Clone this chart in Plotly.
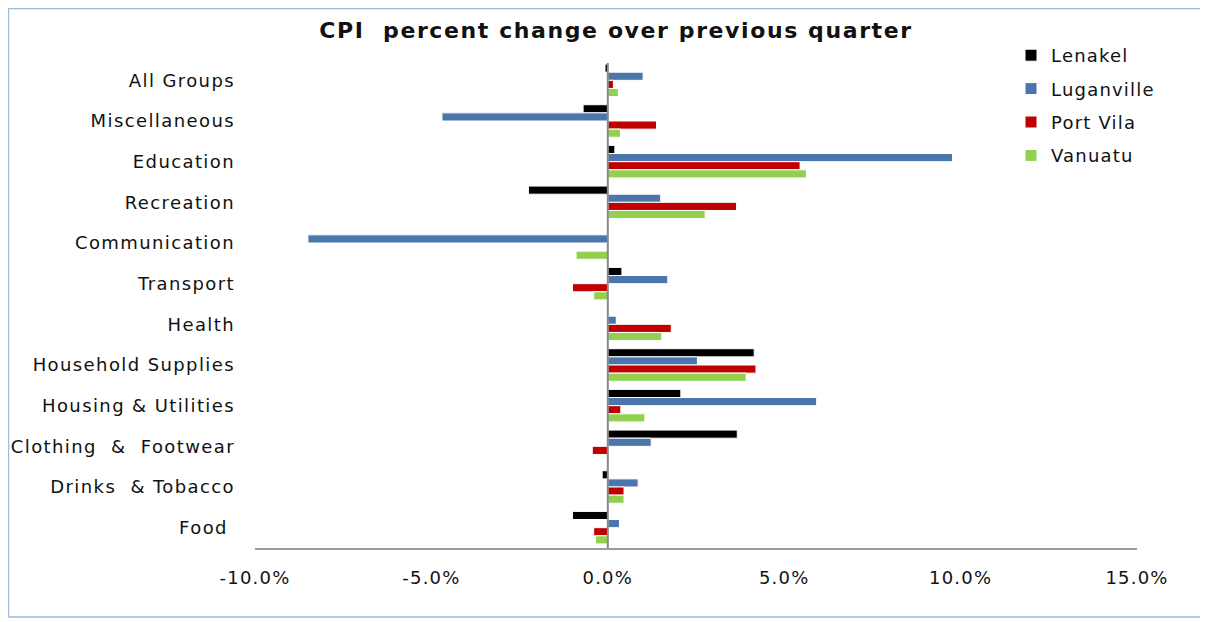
import plotly.graph_objects as go

categories = ["All Groups", "Miscellaneous", "Education", "Recreation", "Communication",
              "Transport", "Health", "Household Supplies", "Housing & Utilities",
              "Clothing\u00a0 &\u00a0 Footwear", "Drinks\u00a0 & Tobacco", "Food\u00a0"]

lenakel    = [-0.08, -0.70, 0.20, -2.25, 0.00, 0.40, 0.00, 4.15, 2.07, 3.67, -0.16, -1.00]
luganville = [1.00, -4.70, 9.77, 1.50, -8.50, 1.70, 0.24, 2.54, 5.92, 1.23, 0.86, 0.33]
port_vila  = [0.16, 1.38, 5.45, 3.65, 0.00, -1.00, 1.80, 4.20, 0.37, -0.44, 0.46, -0.40]
vanuatu    = [0.30, 0.36, 5.63, 2.76, -0.90, -0.40, 1.53, 3.92, 1.05, 0.05, 0.46, -0.35]

tick_values = [-10, -5, 0, 5, 10, 15]
tick_labels = ["-10.0%", "-5.0%", "0.0%", "5.0%", "10.0%", "15.0%"]

series = [("Lenakel", lenakel, "#000000"),
          ("Luganville", luganville, "#4A76AC"),
          ("Port Vila", port_vila, "#C00000"),
          ("Vanuatu", vanuatu, "#92D050")]

fig = go.Figure()
for name, vals, col in series:
    fig.add_trace(go.Bar(
        y=categories, x=vals, name=name, orientation="h",
        marker=dict(color=col, line=dict(color="white", width=1)),
        legendgroup=name,
    ))

# page is offset by 8px body margin -> figure coords = screen - 8
W, H = 1200, 614
L, R, T, B = 247, 71, 52, 74
ph = H - T - B


def py(p):  # screen y pixel -> paper y
    return (H - B - (p - 8)) / ph


def px(p):  # screen x pixel -> paper x
    return ((p - 8) - L) / (W - L - R)


FONT = "DejaVu Sans"
fig.update_layout(
    width=W, height=H,
    margin=dict(l=L, r=R, t=T, b=B),
    paper_bgcolor="white", plot_bgcolor="white",
    barmode="group", bargap=0.2, bargroupgap=0.0,
    font=dict(family=FONT, color="#111111", size=18),
    title=dict(text="<b>CPI  percent change over previous quarter</b>",
               x=(616 - 8) / W, xref="container", xanchor="center",
               y=1 - (30 - 8) / H, yref="container", yanchor="middle",
               font=dict(family=FONT, size=22, color="#111111")),
    legend=dict(x=px(1011), y=py(37), xanchor="left", yanchor="top",
                traceorder="grouped", tracegroupgap=7,
                font=dict(family=FONT, size=18, color="#111111"),
                bgcolor="rgba(0,0,0,0)"),
    xaxis=dict(range=[-10, 15], tickvals=tick_values, ticktext=tick_labels,
               showgrid=False, zeroline=False,
               showline=True, linecolor="#9a9a9a", linewidth=2,
               ticks="", ticklabelstandoff=12,
               tickfont=dict(family=FONT, size=18, color="#111111")),
    yaxis=dict(autorange="reversed", showgrid=False, zeroline=False, showline=False,
               ticks="", ticklabelstandoff=19,
               tickfont=dict(family=FONT, size=18, color="#111111")),
    shapes=[
        dict(type="line", xref="x", yref="paper", x0=0, x1=0, y0=0, y1=py(63),
             line=dict(color="#8a8a8a", width=2), layer="above"),
        dict(type="rect", xref="paper", yref="paper",
             x0=-L / (W - L - R) + 0.0005, x1=px(1203), y0=py(617), y1=py(8.5),
             line=dict(color="#9DB9DD", width=1.5), fillcolor="rgba(0,0,0,0)",
             layer="below"),
    ],
)

# widen text spacing slightly to mimic the reference's stretched Verdana-like text
post_js = """
(function(){
  var gd = document.getElementById('{plot_id}');
  function sp(sel, v){ gd.querySelectorAll(sel).forEach(function(e){ e.style.letterSpacing = v; }); }
  sp('.ytick text', '1.4px');
  sp('.xtick text', '1.2px');
  sp('.legendtext', '1.2px');
  sp('.gtitle', '1.6px');
  gd.querySelectorAll('.legend [clip-path]').forEach(function(e){ e.removeAttribute('clip-path'); });
})();
"""

fig.write_html("out.html", post_script=post_js)
